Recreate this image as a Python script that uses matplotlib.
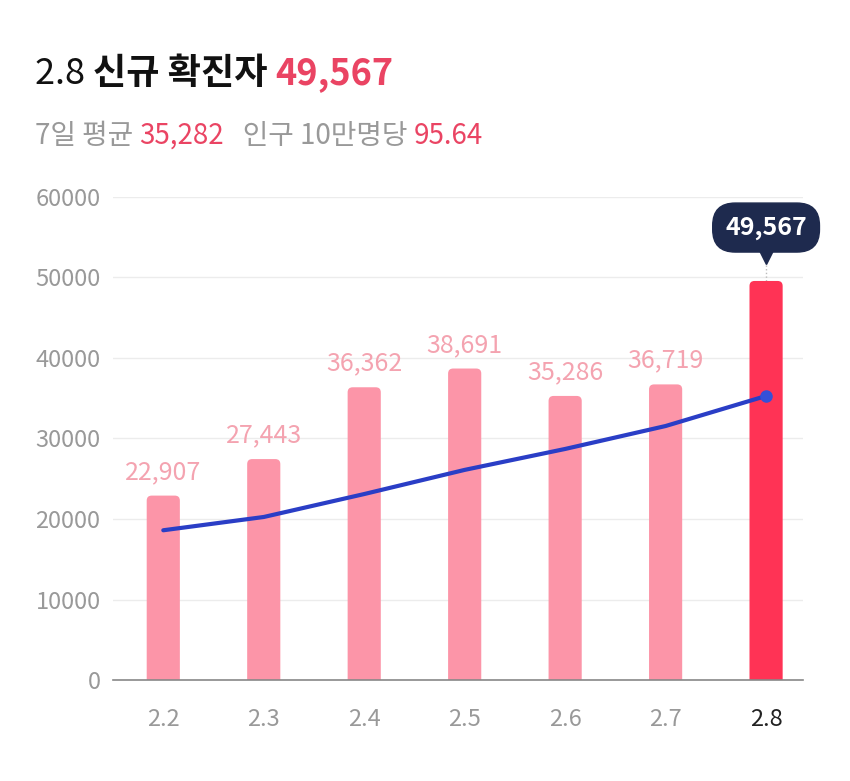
import matplotlib
matplotlib.use("Agg")
import matplotlib.pyplot as plt
from matplotlib.patches import FancyBboxPatch

plt.rcParams['font.family'] = ['Noto Sans CJK KR', 'DejaVu Sans']

# ── 데이터 ─────────────────────────────────────────────
dates = ['2.2', '2.3', '2.4', '2.5', '2.6', '2.7', '2.8']
new_cases = [22907, 27443, 36362, 38691, 35286, 36719, 49567]
avg_7d = [18600, 20250, 23100, 26100, 28700, 31550, 35282]
yticks = [0, 10000, 20000, 30000, 40000, 50000, 60000]

PINK = '#fc95a8'
RED = '#ff3355'
LABEL_PINK = '#f4a3b0'
TITLE_RED = '#ea4463'
GRAY = '#999999'
NAVY = '#1e2a4e'
BLUE = '#2a3ec6'

fig = plt.figure(figsize=(8.5, 7.81), dpi=100)
ax = fig.add_axes([0.133, 0.1293, 0.812, 0.6185])

ax.set_xlim(-0.5, 6.37)
ax.set_ylim(0, 60000)

x = list(range(len(dates)))
colors = [PINK] * (len(dates) - 1) + [RED]

# 위쪽 모서리가 둥근 막대 (아래쪽은 축 아래로 잘림)
w = 0.33
aspect = 12400   # y 데이터 단위 / x 데이터 단위 (픽셀 기준)
for xi, v, c in zip(x, new_cases, colors):
    p = FancyBboxPatch((xi - w / 2, -2000), w, v + 2000,
                       boxstyle='round,pad=0,rounding_size=0.05',
                       mutation_aspect=aspect, facecolor=c,
                       edgecolor='none', zorder=2)
    ax.add_patch(p)

# 7일 평균 선
ax.plot(x, avg_7d, color=BLUE, linewidth=3, zorder=3, solid_capstyle='round')
ax.plot(x[-1], avg_7d[-1], 'o', color='#3550d8', markersize=8, zorder=4)

# 막대 위 라벨
for xi, v in zip(x[:-1], new_cases[:-1]):
    ax.annotate(f'{v:,}', xy=(xi, v), xytext=(0, 12), textcoords='offset points',
                ha='center', va='baseline', fontsize=18, color=LABEL_PINK)

# 마지막 막대 툴팁
last = new_cases[-1]
ax.plot([x[-1], x[-1]], [last, 51500], color='#bbbbbb', linestyle=':',
        linewidth=1, zorder=1)
ax.text(x[-1], 56200, f'{last:,}', ha='center', va='center', fontsize=18,
        fontweight='bold', color='white', zorder=6, clip_on=False,
        bbox=dict(boxstyle='round,pad=0.5,rounding_size=0.9',
                  facecolor=NAVY, edgecolor=NAVY))
ax.plot(x[-1], 52700, marker='v', color=NAVY, markersize=11, zorder=5,
        clip_on=False)

ax.set_yticks(yticks)
ax.set_yticklabels([str(t) for t in yticks])
ax.set_xticks(x)
ax.set_xticklabels(dates)
ax.tick_params(axis='both', length=0, labelsize=17, colors=GRAY)
ax.tick_params(axis='y', pad=9)
ax.tick_params(axis='x', pad=20)
ax.get_xticklabels()[-1].set_color('#222222')

ax.grid(axis='y', color='#ececec', linewidth=1, zorder=0)
ax.set_axisbelow(True)
for s in ['top', 'right', 'left']:
    ax.spines[s].set_visible(False)
ax.spines['bottom'].set_color('#888888')
ax.spines['bottom'].set_linewidth(1.2)
ax.spines['bottom'].set_zorder(5)

# ── 제목 ────────────────────────────────────────────
renderer = fig.canvas.get_renderer()


def text_row(parts, x0, y0, size):
    xpos = x0
    for txt, color, weight in parts:
        t = fig.text(xpos, y0, txt, fontsize=size, color=color,
                     fontweight=weight, ha='left', va='baseline')
        bb = t.get_window_extent(renderer=renderer)
        xpos += bb.width / fig.bbox.width


text_row([('2.8 ', '#111111', 'normal'),
          ('신규 확진자 ', '#111111', 'bold'),
          ('49,567', TITLE_RED, 'bold')], 0.041, 0.892, 26)

text_row([('7일 평균 ', GRAY, 'normal'),
          ('35,282', TITLE_RED, 'normal'),
          ('   인구 10만명당 ', GRAY, 'normal'),
          ('95.64', TITLE_RED, 'normal')], 0.041, 0.816, 20)

fig.savefig('out.png', dpi=100)
